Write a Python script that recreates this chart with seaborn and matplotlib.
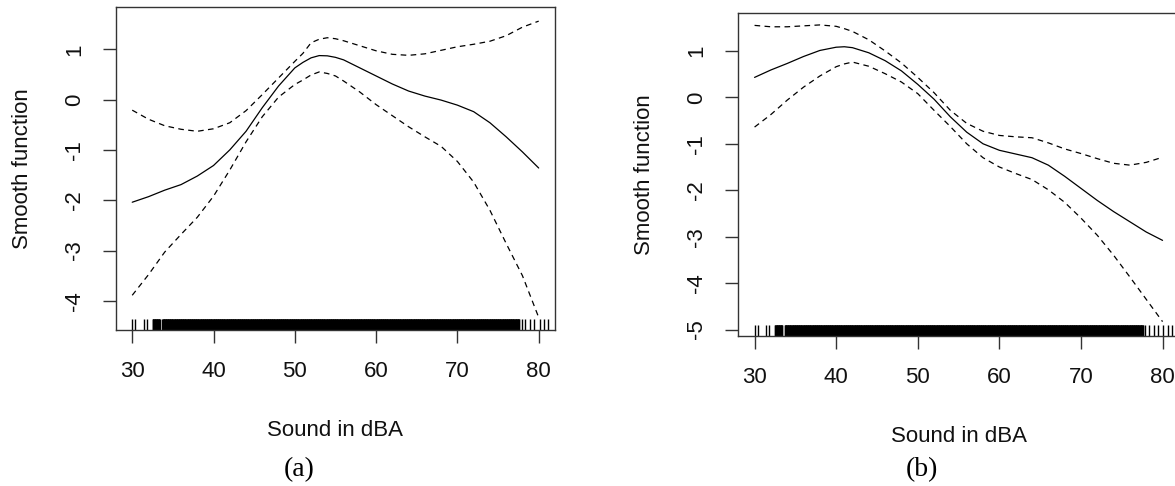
import matplotlib
matplotlib.use("Agg")
import matplotlib.pyplot as plt
import numpy as np
import pandas as pd
import seaborn as sns

# panel (a)
a_x = [30, 32, 34, 36, 38, 40, 42, 44, 46, 48, 50, 51, 52, 53, 54, 55, 56,
       58, 60, 62, 64, 66, 68, 70, 72, 74, 76, 78, 80]
a_fit = [-2.04, -1.93, -1.80, -1.69, -1.52, -1.31, -1.00, -0.63, -0.16, 0.27,
         0.63, 0.74, 0.83, 0.875, 0.87, 0.84, 0.79, 0.63, 0.47, 0.31, 0.17,
         0.07, -0.01, -0.11, -0.24, -0.46, -0.74, -1.04, -1.36]
a_upper = [-0.21, -0.39, -0.52, -0.59, -0.63, -0.58, -0.46, -0.22, 0.10, 0.43,
           0.76, 0.92, 1.13, 1.20, 1.23, 1.21, 1.17, 1.07, 0.97, 0.90, 0.88,
           0.91, 0.98, 1.05, 1.10, 1.16, 1.27, 1.44, 1.56]
a_lower = [-3.89, -3.48, -3.03, -2.68, -2.34, -1.92, -1.40, -0.84, -0.34, 0.05,
           0.30, 0.39, 0.49, 0.55, 0.52, 0.47, 0.37, 0.15, -0.10, -0.32, -0.54,
           -0.74, -0.93, -1.23, -1.64, -2.20, -2.86, -3.50, -4.33]

# panel (b)
b_x = [30, 32, 34, 36, 38, 40, 41, 42, 44, 46, 48, 50, 52, 54, 56, 58, 60,
       62, 64, 66, 68, 70, 72, 74, 76, 78, 80]
b_fit = [0.43, 0.59, 0.73, 0.88, 1.01, 1.08, 1.09, 1.07, 0.96, 0.79, 0.57,
         0.28, -0.04, -0.42, -0.75, -1.00, -1.14, -1.22, -1.30, -1.46, -1.70,
         -1.96, -2.22, -2.46, -2.68, -2.90, -3.08]
b_upper = [1.55, 1.52, 1.52, 1.54, 1.56, 1.53, 1.48, 1.42, 1.24, 1.00, 0.74,
           0.43, 0.10, -0.28, -0.56, -0.73, -0.82, -0.85, -0.87, -0.98, -1.11,
           -1.21, -1.32, -1.42, -1.46, -1.40, -1.29]
b_lower = [-0.64, -0.37, -0.06, 0.22, 0.46, 0.66, 0.72, 0.76, 0.67, 0.51, 0.33,
           0.08, -0.28, -0.63, -1.00, -1.30, -1.50, -1.64, -1.77, -1.99, -2.26,
           -2.60, -2.97, -3.40, -3.87, -4.35, -4.83]

# rug of observed sound levels (dense middle recorded at 0.05 dBA steps)
rug_low = [30.0, 30.4, 31.4, 31.8]
rug_high = [77.9, 78.3, 78.9, 79.4, 80.1, 80.7, 81.1]
rug_dense = [(32.5, 33.4), (33.7, 77.6)]

x_ticks = [30, 40, 50, 60, 70, 80]
a_yticks = [-4, -3, -2, -1, 0, 1]
b_yticks = [-5, -4, -3, -2, -1, 0, 1]

sns.set_theme(style="white")
plt.rcParams["font.family"] = ["Liberation Sans", "DejaVu Sans"]

dense = np.concatenate([np.round(np.arange(lo, hi + 0.02, 0.05), 2) for lo, hi in rug_dense])

fig = plt.figure(figsize=(11.75, 4.86), dpi=100)
ax_a = fig.add_axes([0.0987, 0.321, 0.3736, 0.664])
ax_b = fig.add_axes([0.6283, 0.3086, 0.375, 0.664])


def draw_panel(ax, xs, fit, upper, lower, yticks, ylim):
    df = pd.DataFrame({"x": xs, "fit": fit, "upper": upper, "lower": lower})
    sns.lineplot(data=df, x="x", y="fit", ax=ax, color="black", lw=0.9)
    for col in ["upper", "lower"]:
        sns.lineplot(data=df, x="x", y=col, ax=ax, color="black", lw=0.9,
                     dashes=False, linestyle=(0, (4.5, 3.5)))
    # sparse ends as single ticks, dense middle as a solid block of ticks
    sns.rugplot(x=rug_low + rug_high, ax=ax, height=0.035, color="black",
                lw=1.2, expand_margins=False)
    sns.rugplot(x=dense, ax=ax, height=0.035, color="black", lw=1.5,
                expand_margins=False)
    ax.set_xlim(28, 82)
    ax.set_ylim(*ylim)
    ax.set_xticks(x_ticks)
    ax.set_yticks(yticks)
    ax.set_xticklabels([str(t) for t in x_ticks])
    ax.set_yticklabels([str(t) for t in yticks])
    ax.tick_params(axis="both", which="major", bottom=True, left=True,
                   direction="out", length=9.4, width=1.0, color="#333333",
                   labelsize=16, pad=13, labelcolor="#111111")
    ax.tick_params(axis="y", labelrotation=90)
    for lab in ax.get_yticklabels():
        lab.set_va("center")
    for sp in ax.spines.values():
        sp.set_visible(True)
        sp.set_color("#333333")
        sp.set_linewidth(1.0)
    ax.set_xlabel("Sound in dBA", fontsize=16, color="#111111")
    ax.set_ylabel("Smooth function", fontsize=16, color="#111111")
    ax.xaxis.set_label_coords(0.5, -0.278)
    ax.yaxis.set_label_coords(-0.190, 0.5)


draw_panel(ax_a, a_x, a_fit, a_upper, a_lower, a_yticks, (-4.58, 1.835))
draw_panel(ax_b, b_x, b_fit, b_upper, b_lower, b_yticks, (-5.14, 1.81))

fig.text(299 / 1175, 1 - 470 / 486, "(a)", ha="center", va="center",
         fontsize=20, family="Liberation Serif", color="black")
fig.text(922 / 1175, 1 - 470 / 486, "(b)", ha="center", va="center",
         fontsize=20, family="Liberation Serif", color="black")

fig.savefig("out.png", dpi=100)
